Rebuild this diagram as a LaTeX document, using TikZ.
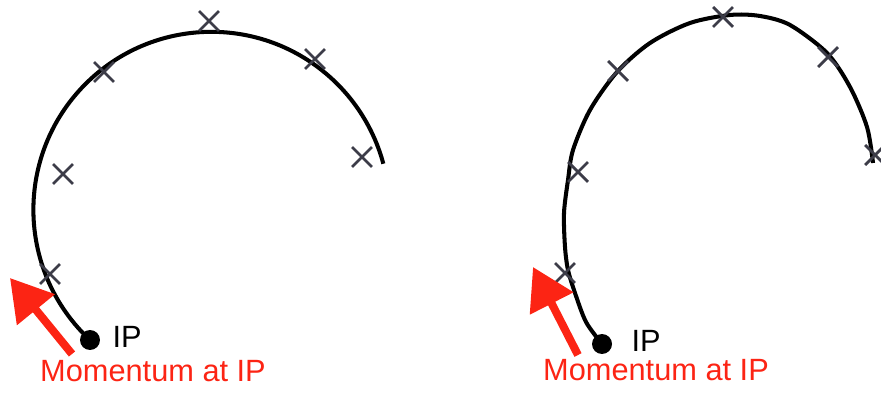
\documentclass[tikz,border=0pt]{standalone}
\usepackage{fontspec}
\setmainfont{Liberation Sans}
\usepackage{tikz}
\usetikzlibrary{arrows.meta,shapes.misc,positioning}
\definecolor{momred}{RGB}{252,36,20}
\definecolor{hitgray}{RGB}{60,60,72}

\begin{document}
\begin{tikzpicture}[x=0.02cm, y=0.02cm,
  track/.style={line width=2.3pt, black},
  hit/.style={cross out, draw=hitgray, line width=1.6pt, minimum size=0.34cm, inner sep=0pt},
  vtx/.style={circle, fill=black, minimum size=0.4cm, inner sep=0pt},
  momarrow/.style={momred, line width=0.16cm, -{Triangle[length=0.82cm, width=0.94cm]}},
  lbl/.style={font=\fontsize{17.5}{20}\selectfont}]
\useasboundingbox (0,0) rectangle (881,392);

% left: circle track
\node[vtx] (ipL) at (90,52) {};
\draw[track] (ipL.center) arc[start angle=227, end angle=15, radius=178];
\foreach \x/\y [count=\i] in {50/118, 63/218, 104/320, 209/371, 315/333, 362/235} {
  \node[hit] (hl\i) at (\x,\y) {};
}
\node[lbl, right=0.12cm of ipL, yshift=2pt] (ipLtxt) {IP};
\coordinate (pL0) at (72,38);
\coordinate (pL1) at (10,114);
\draw[momarrow] (pL0) -- (pL1);
\node[lbl, text=momred] (momL) at (153,21) {Momentum at IP};

% right: distorted track
\node[vtx] (ipR) at (602,48) {};
\draw[track] plot[smooth, tension=0.5] coordinates {(ipR.center) (586,70) (575,99) (568,122) (565,145) (564,179) (568,212) (573,242) (590,282) (617,320) (650,349) (690,369) (730,377) (760,376) (790,367) (827,339) (850,305) (867,265) (873,229)};
\foreach \x/\y [count=\i] in {565/119, 578/220, 618/321, 723/375, 828/335, 875/237} {
  \node[hit] (hr\i) at (\x,\y) {};
}
\node[lbl, right=0.26cm of ipR, yshift=2pt] (ipRtxt) {IP};
\coordinate (pR0) at (578,37);
\coordinate (pR1) at (533,125);
\draw[momarrow] (pR0) -- (pR1);
\node[lbl, text=momred] (momR) at (656,22) {Momentum at IP};
\end{tikzpicture}
\end{document}
